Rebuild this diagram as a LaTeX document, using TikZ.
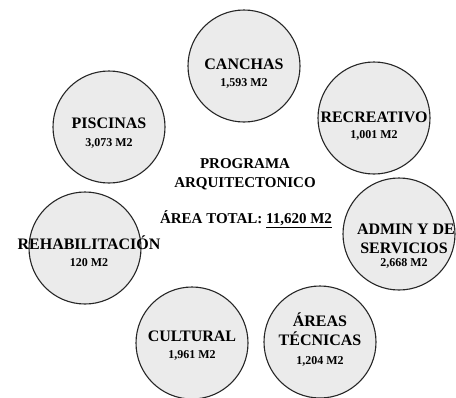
\documentclass[tikz,border=0pt]{standalone}
\usepackage{fontspec}
\setmainfont{Liberation Serif}
\begin{document}
\begin{tikzpicture}[x=1pt,y=-1pt,
  area/.style={circle,draw=black!85,line width=1.1pt,fill=black!8,minimum size=112pt,inner sep=0pt},
  nm/.style={font=\bfseries\fontsize{16}{18}\selectfont,text height=10.6pt,text depth=0pt,inner sep=0pt,anchor=center},
  val/.style={font=\bfseries\fontsize{12}{14}\selectfont,text height=8pt,text depth=0pt,inner sep=0pt,anchor=center},
  ctr/.style={font=\bfseries\fontsize{15}{17}\selectfont,text height=10pt,text depth=0pt,inner sep=0pt,anchor=center}]
\useasboundingbox (0,0) rectangle (456,397);
\node[area] (canchas) at (244,66) {};
\node[area] (recre) at (374,118) {};
\node[area] (pisc) at (109,127) {};
\node[area] (admin) at (399,234) {};
\node[area] (rehab) at (85,248) {};
\node[area] (cult) at (192,343) {};
\node[area] (tec) at (320,342) {};
% labels
\node[nm] (canchasN) at (244,64) {CANCHAS};
\node[val] (canchasV) at (244,82) {1,593 M2};
\node[nm] (recreN) at (374,117) {RECREATIVO};
\node[val] (recreV) at (374,134) {1,001 M2};
\node[nm] (piscN) at (109,123) {PISCINAS};
\node[val] (piscV) at (109,142) {3,073 M2};
\node[nm,anchor=east] (adminN) at (455,229) {ADMIN Y DE};
\node[nm] (adminS) at (404,248) {SERVICIOS};
\node[val] (adminV) at (404,262) {2,668 M2};
\node[nm] (rehabN) at (89,244) {REHABILITACIÓN};
\node[val] (rehabV) at (89,262) {120 M2};
\node[nm] (cultN) at (192,336) {CULTURAL};
\node[val] (cultV) at (192,354) {1,961 M2};
\node[nm] (tecN) at (320,321) {ÁREAS};
\node[nm] (tecT) at (320,340) {TÉCNICAS};
\node[val] (tecV) at (320,360) {1,204 M2};
% centre
\node[ctr] (prog) at (245,163) {PROGRAMA};
\node[ctr] (arq) at (245,182) {ARQUITECTONICO};
\node[ctr] (total) at (246,218) {ÁREA TOTAL: \underline{11,620 M2}};
\end{tikzpicture}
\end{document}
